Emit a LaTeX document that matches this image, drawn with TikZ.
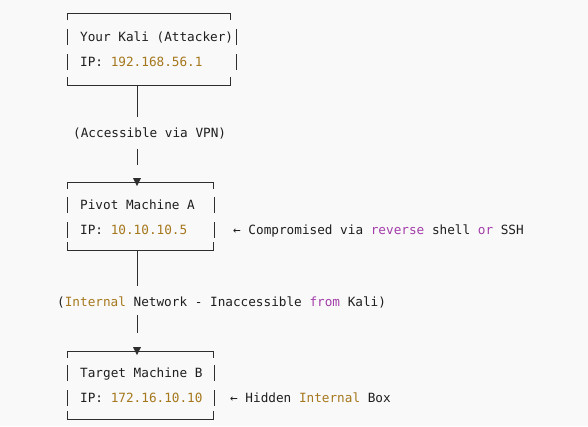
\documentclass[tikz,border=0pt]{standalone}
\usepackage{fontspec}
\newfontfamily\monofont{DejaVu Sans Mono}
\definecolor{bg}{HTML}{F9F9F9}
\definecolor{ink}{HTML}{1E1E1E}
\definecolor{gold}{HTML}{A5781D}
\definecolor{purp}{HTML}{A33DAA}
\definecolor{framec}{HTML}{2E2E2E}
\newcommand{\gd}[1]{\textcolor{gold}{#1}}
\newcommand{\pp}[1]{\textcolor{purp}{#1}}
% L, R (corner), Rb (side bar), T, row1, row2, B
\newcommand{\asciibox}[7]{%
  \draw[edgeline] (#1,#4+7) -- (#1,#4) -- (#2,#4) -- (#2,#4+7);
  \draw[edgeline] (#1,#7-8) -- (#1,#7) -- (#2,#7) -- (#2,#7-8);
  \draw[edgeline] (#1,#5-8) -- (#1,#5+8);
  \draw[edgeline] (#1,#6-8) -- (#1,#6+8);
  \draw[edgeline] (#3,#5-8) -- (#3,#5+8);
  \draw[edgeline] (#3,#6-8) -- (#3,#6+8);
}
\begin{document}
\begin{tikzpicture}[x=1pt,y=-1pt,
  txt/.style={anchor=base west, inner sep=0pt, font=\monofont\fontsize{12.7}{15}\selectfont, text=ink},
  edgeline/.style={draw=framec, line width=1pt},
  tiptri/.style={fill=framec}]
\fill[bg] (0,0) rectangle (588,426);
\useasboundingbox (0,0) rectangle (588,426);

% boxes
\asciibox{67}{230}{236}{13}{37}{62}{85}
\asciibox{67}{213}{214}{182}{205}{230}{250}
\asciibox{67}{213}{214}{351}{373}{398}{419}

% texts
\node[txt] (kali) at (80,41.5) {Your Kali (Attacker)};
\node[txt] (kaliip) at (80,66.5) {IP: \gd{192.168.56.1}};
\node[txt] (vpn) at (73,137.5) {(Accessible via VPN)};
\node[txt] (pivot) at (80,209.5) {Pivot Machine A};
\node[txt] (pivotip) at (80,234.5) {IP: \gd{10.10.10.5}};
\node[txt] (note1) at (233,234.5) {← Compromised via \pp{reverse} shell \pp{or} SSH};
\node[txt] (internal) at (57,306.5) {(\gd{Internal} Network - Inaccessible \pp{from} Kali)};
\node[txt] (target) at (80,377.5) {Target Machine B};
\node[txt] (targetip) at (80,402.5) {IP: \gd{172.16.10.10}};
\node[txt] (note2) at (230,402.5) {← Hidden \gd{Internal} Box};

% connector coordinates
\coordinate (kalitee) at (137,85);
\coordinate (vpnin) at (137,117);
\coordinate (vpnout) at (137,149);
\coordinate (pivotstub) at (137,165);
\coordinate (pivottee) at (137,250);
\coordinate (netin) at (137,286);
\coordinate (netout) at (137,315);
\coordinate (targetstub) at (137,333);

\draw[edgeline] (kalitee) -- (vpnin);
\draw[edgeline] (vpnout) -- (pivotstub);
\fill[tiptri] (133,178) -- (141,178) -- (137,186) -- cycle;
\draw[edgeline] (pivottee) -- (netin);
\draw[edgeline] (netout) -- (targetstub);
\fill[tiptri] (133,347) -- (141,347) -- (137,355) -- cycle;
\end{tikzpicture}
\end{document}
